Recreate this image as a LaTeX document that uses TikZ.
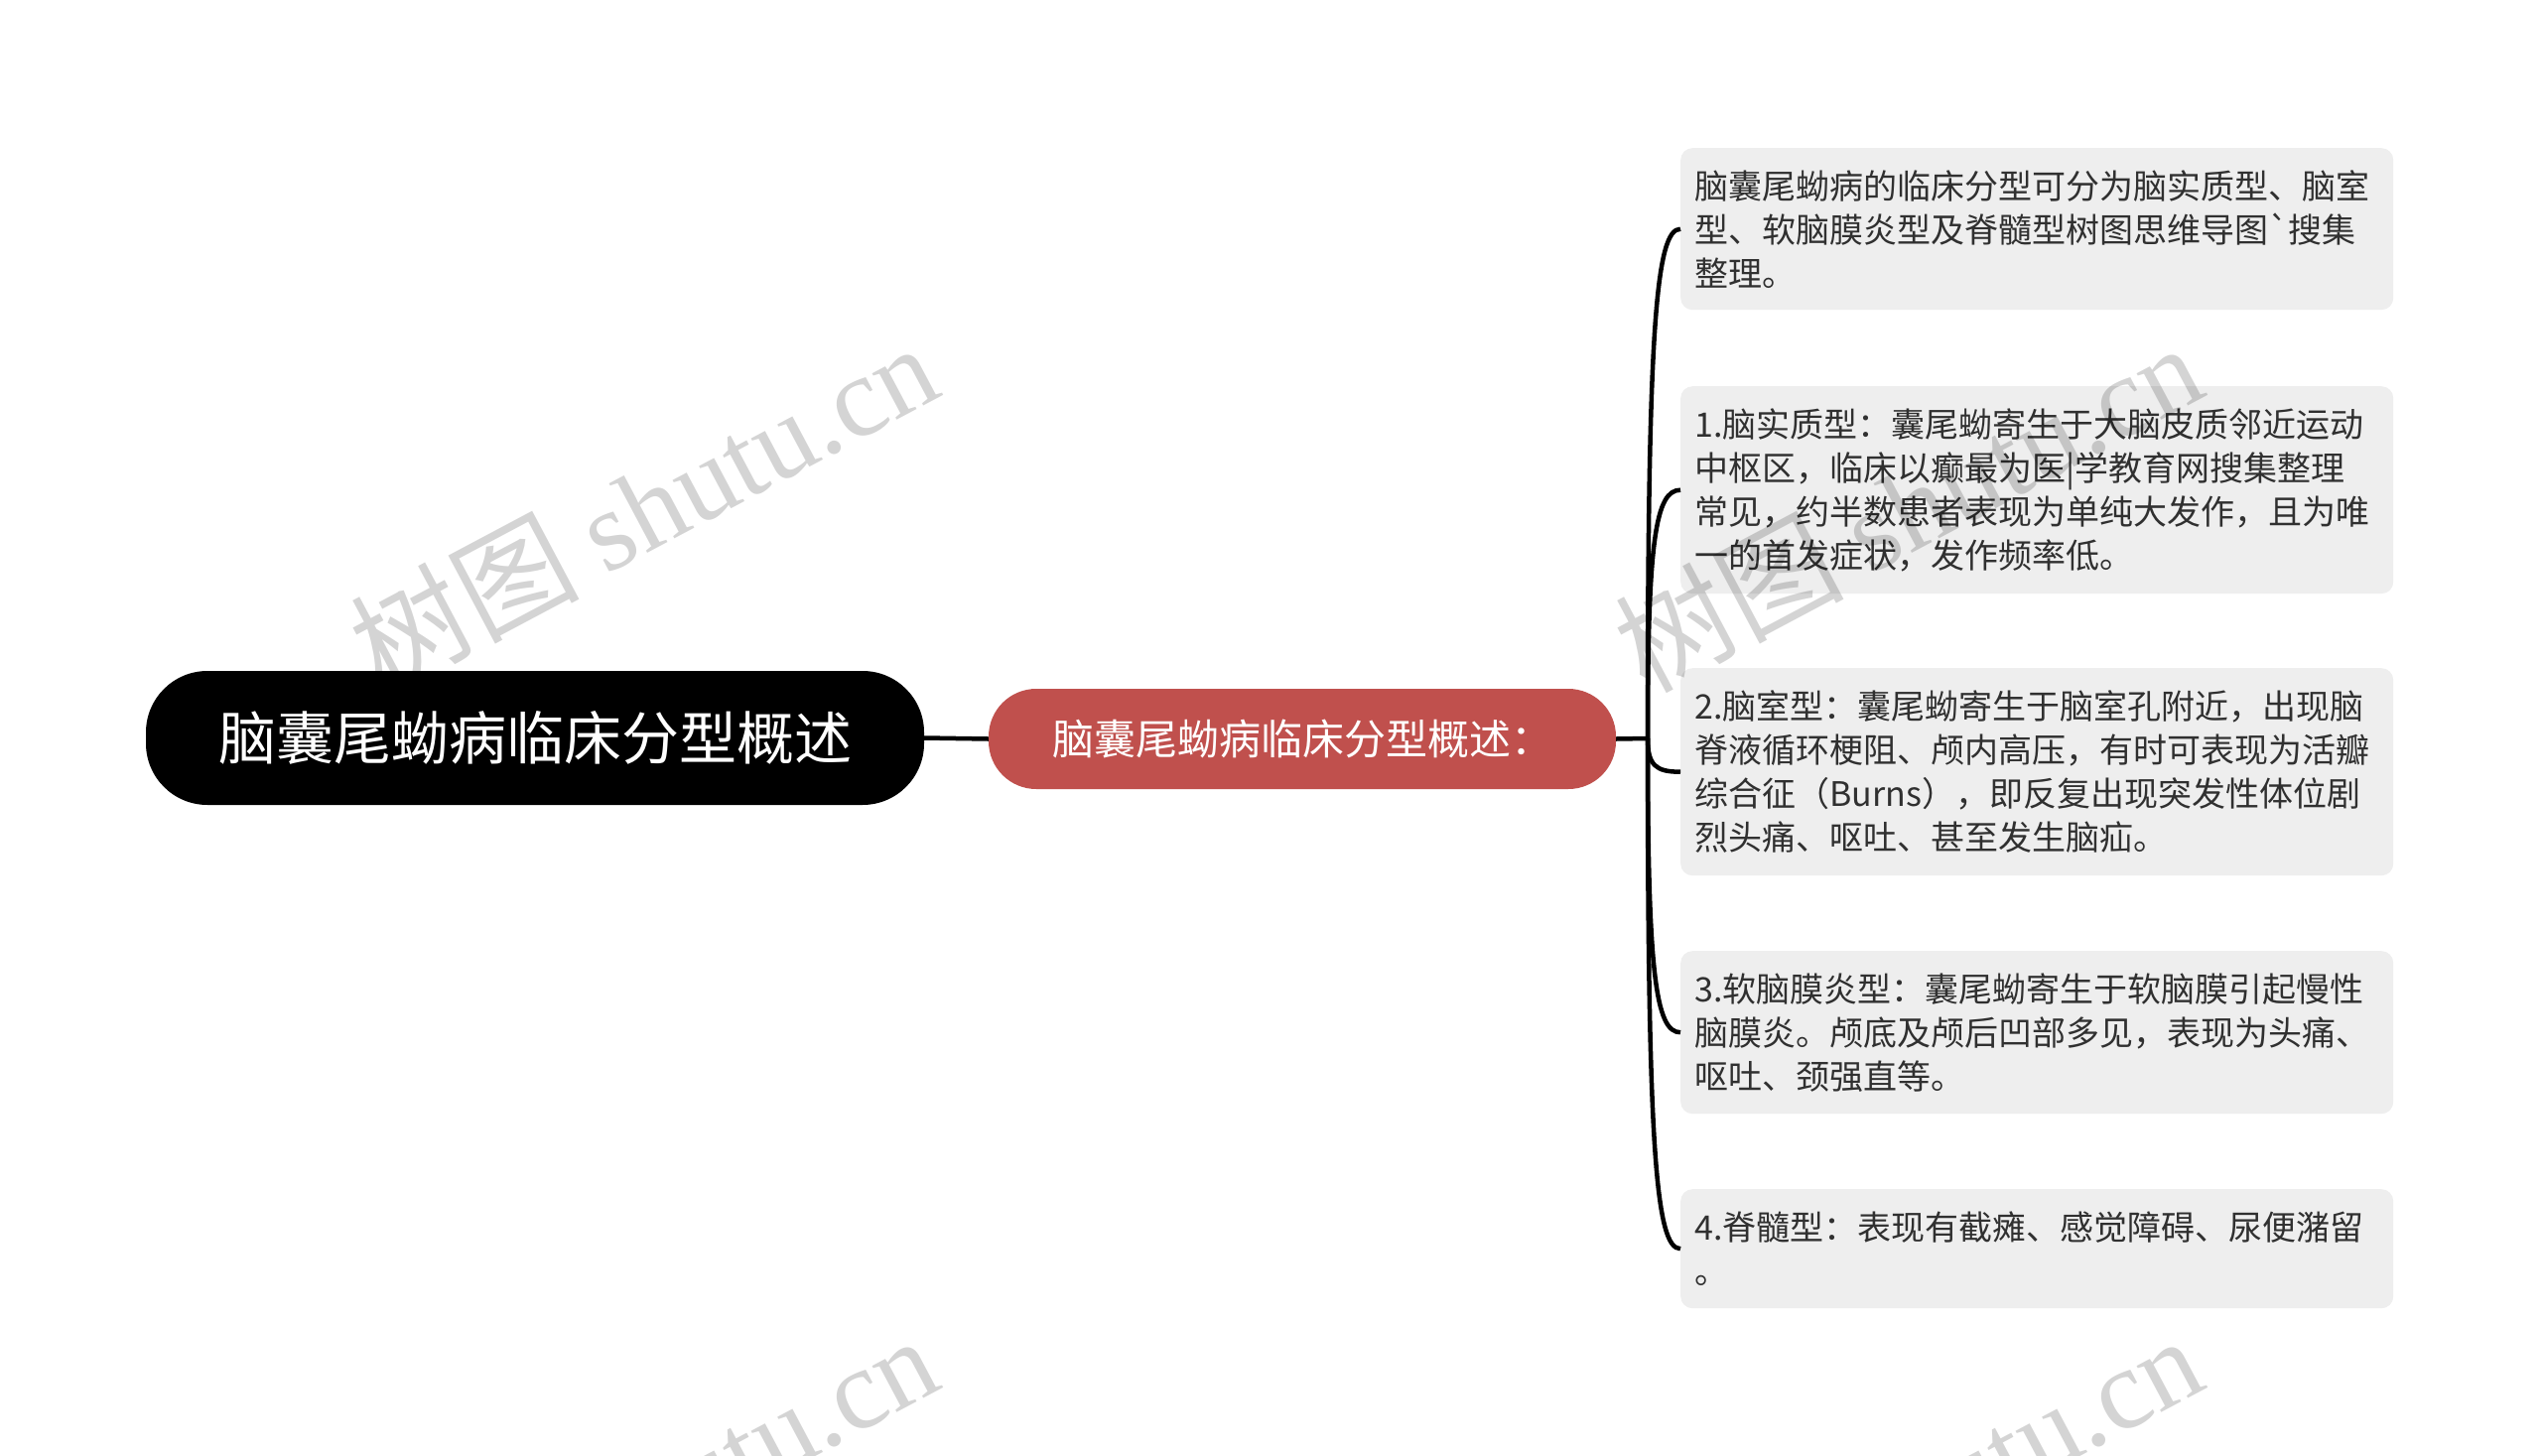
\documentclass[tikz,border=0pt]{standalone}
\usepackage{fontspec}
\setmainfont{Noto Sans CJK SC}[Ligatures=TeXOff]
\newfontfamily\wmcjk{Noto Sans CJK SC}
\newfontfamily\wmlat{Liberation Serif}
\usetikzlibrary{calc}
\definecolor{redn}{HTML}{C0504D}
\definecolor{boxg}{HTML}{EEEEEE}
\definecolor{txt}{HTML}{303030}
\begin{document}
\begin{tikzpicture}[x=1pt,y=-1pt,
  rootbox/.style={fill=black, text=white, rounded corners=62pt, minimum width=784pt, minimum height=135pt, inner sep=0pt, font=\fontsize{58}{70}\selectfont},
  subbox/.style={fill=redn, text=white, rounded corners=48pt, minimum width=632pt, minimum height=101pt, inner sep=0pt, font=\fontsize{42}{52}\selectfont},
  textbox/.style={fill=boxg, rounded corners=12pt, text=txt, text width=690pt, inner xsep=14pt, inner ysep=0pt, align=left, anchor=north west, font=\fontsize{34}{44}\selectfont},
  conn/.style={line width=4.5pt, black},
  wm/.style={text=black, opacity=0.17, font=\fontsize{115}{130}\selectfont, inner sep=0pt}
]
\clip (0,0) rectangle (2560,1467);
\fill[white] (0,0) rectangle (2560,1467);

\node[rootbox] (root) at (539,743.5) {脑囊尾蚴病临床分型概述};
\node[subbox] (sub) at (1312,744.5) {脑囊尾蚴病临床分型概述：};
\coordinate (J) at (1660,744);

\node[textbox, minimum height=163pt] (b1) at (1693,149) {脑囊尾蚴病的临床分型可分为脑实质型、脑室\\型、软脑膜炎型及脊髓型树图思维导图`搜集\\整理。};
\node[textbox, minimum height=209pt] (b2) at (1693,389) {1.脑实质型：囊尾蚴寄生于大脑皮质邻近运动\\中枢区，临床以癫最为医|学教育网搜集整理\\常见，约半数患者表现为单纯大发作，且为唯\\一的首发症状，发作频率低。};
\node[textbox, minimum height=209pt] (b3) at (1693,673) {2.脑室型：囊尾蚴寄生于脑室孔附近，出现脑\\脊液循环梗阻、颅内高压，有时可表现为活瓣\\综合征（Burns），即反复出现突发性体位剧\\烈头痛、呕吐、甚至发生脑疝。};
\node[textbox, minimum height=164pt] (b4) at (1693,958) {3.软脑膜炎型：囊尾蚴寄生于软脑膜引起慢性\\脑膜炎。颅底及颅后凹部多见，表现为头痛、\\呕吐、颈强直等。};
\node[textbox, minimum height=120pt] (b5) at (1693,1198) {4.脊髓型：表现有截瘫、感觉障碍、尿便潴留\\。};

\draw[conn] (root.east) -- (sub.west);
\draw[conn] (sub.east) -- (J);
\foreach \b in {b1,b2,b3,b4,b5}{
  \draw[conn] (J) .. controls ($(J)!0.8!(J|-\b.west)$) and ($(\b.west)+(-25,0)$) .. (\b.west);
}

\node[wm, rotate=28] (w1) at (648,510) {{\wmcjk 树图} {\wmlat shutu.cn}};
\node[wm, rotate=28] (w2) at (1922,510) {{\wmcjk 树图} {\wmlat shutu.cn}};
\node[wm, rotate=28] (w3) at (648,1510) {{\wmcjk 树图} {\wmlat shutu.cn}};
\node[wm, rotate=28] (w4) at (1922,1510) {{\wmcjk 树图} {\wmlat shutu.cn}};
\end{tikzpicture}
\end{document}
